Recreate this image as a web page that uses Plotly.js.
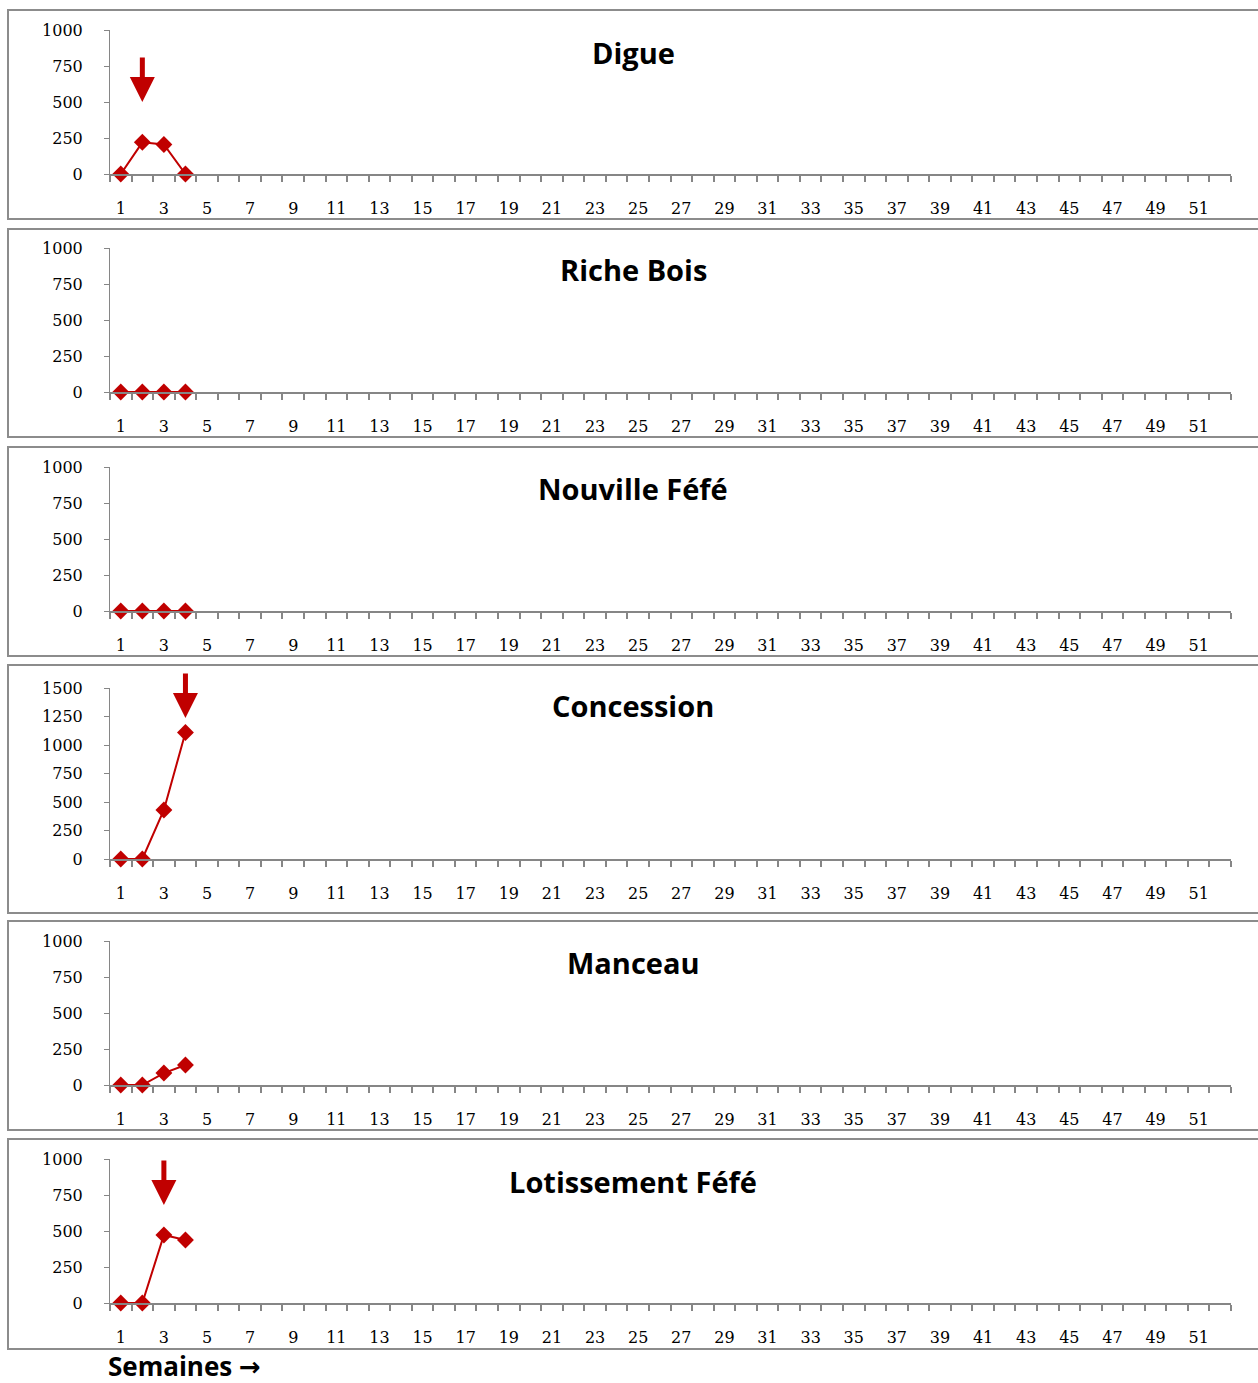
<!DOCTYPE html>
<html><head><meta charset="utf-8">
<script src="https://cdn.plot.ly/plotly-3.0.1.min.js"></script>
<style>html,body{margin:0;padding:0;background:#fff}</style>
</head><body><div id="chart" style="width:1258px;height:1383px"></div>
<script>
// ---- data ----
const weeks = Array.from({length: 52}, (_, i) => i + 1);
const weekLabelVals = [1,3,5,7,9,11,13,15,17,19,21,23,25,27,29,31,33,35,37,39,41,43,45,47,49,51];
const sites = ["Digue", "Riche Bois", "Nouville Féfé", "Concession", "Manceau", "Lotissement Féfé"];
const digue = [0, 220, 205, 0];
const richeBois = [0, 0, 0, 0];
const nouvilleFefe = [0, 0, 0, 0];
const concession = [0, 0, 430, 1110];
const manceau = [0, 0, 83, 139];
const lotissementFefe = [0, 0, 472, 437];
const yMax = [1000, 1000, 1000, 1500, 1000, 1000];
const yTickStep = 250;
const arrowWeek = [2, null, null, 4, null, 3];
const xAxisTitle = "Semaines";

const series = [digue, richeBois, nouvilleFefe, concession, manceau, lotissementFefe];

// ---- layout geometry (pixels) ----
const W = 1258, H = 1383;
const px = x => x / W, py = y => 1 - y / H;
const plotX0 = 110, plotX1 = 1231;
const plotTop = [30, 248, 467, 688, 941, 1159];
const plotBot = [174, 392, 611, 859, 1085, 1303];
const boxTop = [10, 229, 447, 665, 921, 1139];
const boxBot = [219, 437, 656, 913, 1130, 1349];
const titleY = [52, 270, 489, 705, 963, 1181];
const arrowTipY = [102, null, null, 718, null, 1205];

const red = "#c00000";
const grey = "#868686";
const tickFont = {family: "DejaVu Serif", size: 16, color: "#000"};

const traces = [];
const layout = {
  width: W, height: H, margin: {l: 0, r: 0, t: 0, b: 0},
  paper_bgcolor: "#fff", plot_bgcolor: "rgba(0,0,0,0)",
  showlegend: false, shapes: [], annotations: []
};

sites.forEach((name, i) => {
  const n = i + 1;
  const xa = n === 1 ? "xaxis" : "xaxis" + n;
  const ya = n === 1 ? "yaxis" : "yaxis" + n;
  const xr = n === 1 ? "x" : "x" + n;
  const yr = n === 1 ? "y" : "y" + n;
  traces.push({
    x: weeks.slice(0, series[i].length), y: series[i],
    xaxis: xr, yaxis: yr, type: "scatter", mode: "lines+markers",
    line: {color: red, width: 2},
    marker: {symbol: "diamond", size: 13, color: red},
    cliponaxis: false, hoverinfo: "x+y"
  });
  const yt = [];
  for (let v = 0; v <= yMax[i]; v += yTickStep) yt.push(v);
  layout[xa] = {
    domain: [px(plotX0), px(plotX1)], anchor: yr,
    range: [0.5, 52.5], tickmode: "array", tickvals: weekLabelVals,
    ticktext: weekLabelVals.map(String), ticks: "", showgrid: false, zeroline: false,
    showline: true, linecolor: grey, linewidth: 2,
    tickfont: tickFont, ticklabelstandoff: 19,
    minor: {tickmode: "linear", tick0: 0.5, dtick: 1, ticks: "outside", ticklen: 6, tickwidth: 2, tickcolor: grey, showgrid: false},
    fixedrange: true
  };
  layout[ya] = {
    domain: [py(plotBot[i]), py(plotTop[i])], anchor: xr,
    range: [0, yMax[i]], tickmode: "array", tickvals: yt,
    ticks: "outside", ticklen: 5, tickwidth: 1, tickcolor: grey,
    showgrid: false, zeroline: false, showline: true, linecolor: grey, linewidth: 1,
    tickfont: tickFont, ticklabelstandoff: 18, fixedrange: true
  };
  layout.shapes.push({
    type: "rect", xref: "paper", yref: "paper",
    x0: px(8), x1: px(1264), y0: py(boxBot[i]), y1: py(boxTop[i]),
    line: {color: "#8c8c8c", width: 2}, fillcolor: "rgba(0,0,0,0)"
  });
  layout.annotations.push({
    xref: "paper", yref: "paper", x: px(633), y: py(titleY[i]),
    xanchor: "center", yanchor: "middle", showarrow: false,
    text: "<b>" + name + "</b>",
    font: {family: "Open Sans", size: 29, color: "#000"}
  });
  if (arrowWeek[i] !== null) {
    const tipVal = (plotBot[i] - arrowTipY[i]) / (plotBot[i] - plotTop[i]) * yMax[i];
    layout.annotations.push({
      xref: xr, yref: yr, x: arrowWeek[i], y: tipVal,
      axref: "pixel", ayref: "pixel", ax: 0, ay: -46,
      showarrow: true, arrowhead: 2, arrowsize: 1, arrowwidth: 5,
      arrowcolor: red, text: ""
    });
  }
});

layout.annotations.push({
  xref: "paper", yref: "paper", x: px(106), y: py(1366),
  xanchor: "left", yanchor: "middle", showarrow: false,
  text: "<b>" + xAxisTitle + " <span style=\"font-family:'DejaVu Sans'\">\u2192</span></b>",
  font: {family: "Open Sans", size: 26, color: "#000"}
});

Plotly.newPlot("chart", traces, layout, {staticPlot: true, displayModeBar: false});
</script></body></html>
